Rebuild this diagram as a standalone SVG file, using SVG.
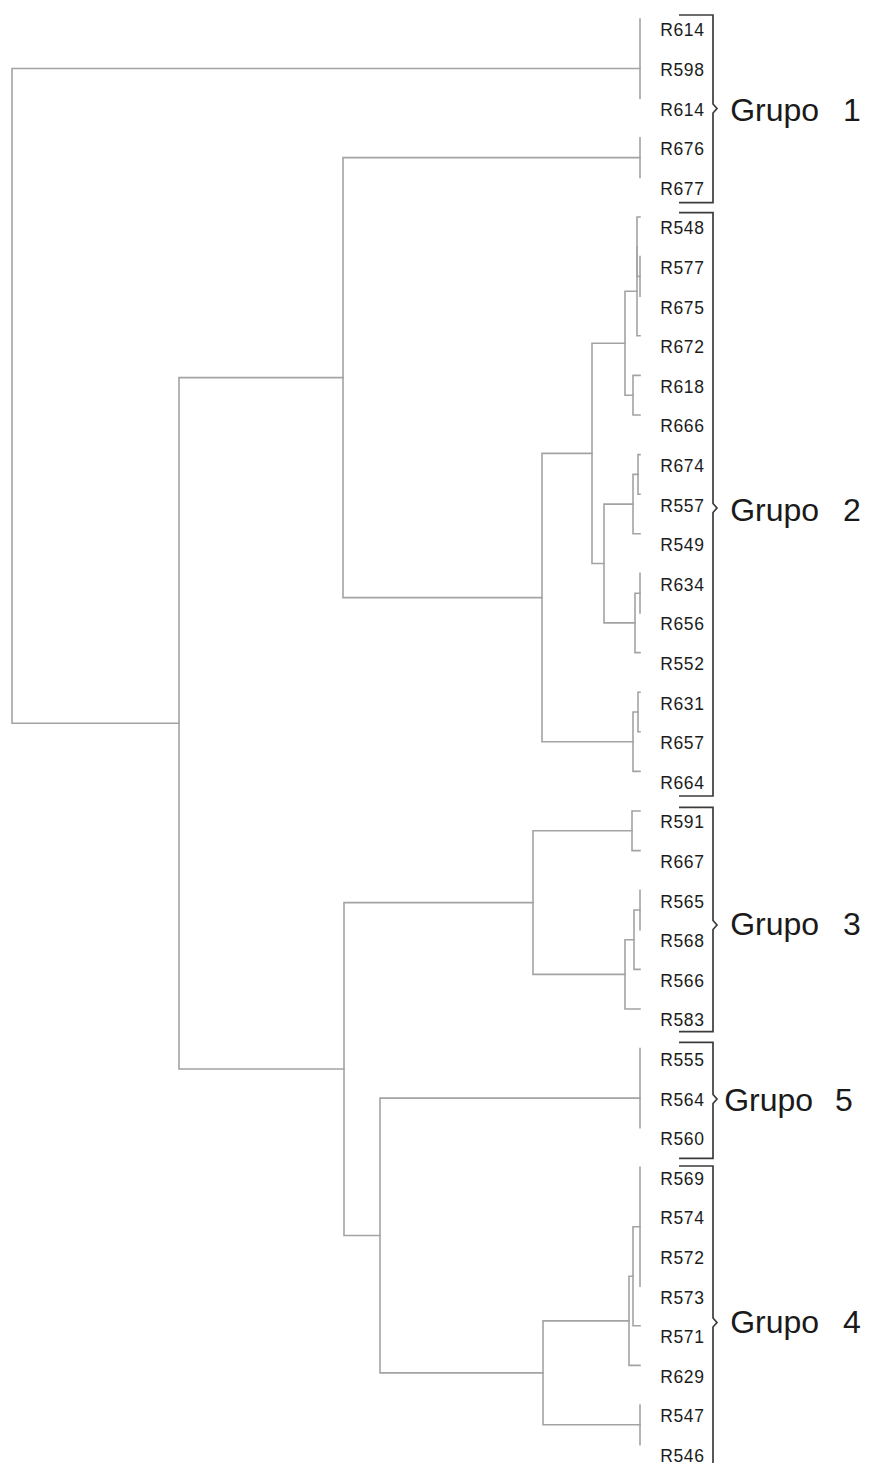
<svg xmlns="http://www.w3.org/2000/svg" width="871" height="1463" viewBox="0 0 871 1463">
  <style>
    .branch { fill: none; stroke: #a3a3a3; stroke-width: 1.6; stroke-linecap: square; }
    .brace { fill: none; stroke: #3c3c3c; stroke-width: 1.7; stroke-linejoin: miter; }
    .leaf { font-family: "Liberation Sans", Arial, sans-serif; font-size: 17.5px; letter-spacing: 0.6px; fill: #1c1c1c; }
    .group-name { font-family: "Liberation Sans", Arial, sans-serif; font-size: 32px; word-spacing: 15px; fill: #1a1a1a; }
  </style>
  <rect width="871" height="1463" fill="#ffffff"/>

  <!-- dendrogram branches (elbow connectors, tips at x=640) -->
  <g id="connectors" class="branch">
    <!-- Grupo 1 -->
    <path d="M640,19 V98.2"/>
    <path d="M640,137.8 V177.4"/>
    <!-- Grupo 2 -->
    <path d="M640,256.6 V296.2"/>
    <path d="M640,217 H637 V276.4 H640"/>
    <path d="M637,246.7 V335.8 H640"/>
    <path d="M640,375.4 H633 V415 H640"/>
    <path d="M637,291.2 H625 V395.2 H633"/>
    <path d="M640,454.6 H638 V494.2 H640"/>
    <path d="M638,474.4 H633 V533.8 H640"/>
    <path d="M640,573.4 V613"/>
    <path d="M640,593.2 H635 V652.6 H640"/>
    <path d="M633,504.1 H604 V622.9 H635"/>
    <path d="M625,343.2 H592 V563.5 H604"/>
    <path d="M640,692.2 H638 V731.8 H640"/>
    <path d="M638,712 H633 V771.4 H640"/>
    <path d="M592,453.4 H542 V741.7 H633"/>
    <path d="M640,157.6 H343 V597.6 H542"/>
    <!-- Grupo 3 -->
    <path d="M640,811 H632 V850.6 H640"/>
    <path d="M640,890.2 V929.8"/>
    <path d="M640,910 H634 V969.4 H640"/>
    <path d="M634,939.7 H625 V1009 H640"/>
    <path d="M632,830.8 H533 V974.4 H625"/>
    <!-- Grupo 5 -->
    <path d="M640,1048.6 V1127.8"/>
    <!-- Grupo 4 -->
    <path d="M640,1167.4 V1286.2"/>
    <path d="M640,1226.8 H633 V1325.8 H640"/>
    <path d="M633,1276.3 H629 V1365.4 H640"/>
    <path d="M640,1405 V1444.6"/>
    <path d="M629,1320.9 H543 V1424.8 H640"/>
    <!-- upper levels -->
    <path d="M640,1098.1 H380 V1372.9 H543"/>
    <path d="M533,902.6 H344 V1235.5 H380"/>
    <path d="M343,377.6 H179 V1069 H344"/>
    <path d="M640,68.5 H12 V723.3 H179"/>
  </g>

  <!-- leaf labels -->
  <g id="leaf-R614-a"><text class="leaf" x="660.3" y="36.3">R614</text></g>
  <g id="leaf-R598"><text class="leaf" x="660.3" y="75.9">R598</text></g>
  <g id="leaf-R614-b"><text class="leaf" x="660.3" y="115.5">R614</text></g>
  <g id="leaf-R676"><text class="leaf" x="660.3" y="155.1">R676</text></g>
  <g id="leaf-R677"><text class="leaf" x="660.3" y="194.7">R677</text></g>
  <g id="leaf-R548"><text class="leaf" x="660.3" y="234.3">R548</text></g>
  <g id="leaf-R577"><text class="leaf" x="660.3" y="273.9">R577</text></g>
  <g id="leaf-R675"><text class="leaf" x="660.3" y="313.5">R675</text></g>
  <g id="leaf-R672"><text class="leaf" x="660.3" y="353.1">R672</text></g>
  <g id="leaf-R618"><text class="leaf" x="660.3" y="392.7">R618</text></g>
  <g id="leaf-R666"><text class="leaf" x="660.3" y="432.3">R666</text></g>
  <g id="leaf-R674"><text class="leaf" x="660.3" y="471.9">R674</text></g>
  <g id="leaf-R557"><text class="leaf" x="660.3" y="511.5">R557</text></g>
  <g id="leaf-R549"><text class="leaf" x="660.3" y="551.1">R549</text></g>
  <g id="leaf-R634"><text class="leaf" x="660.3" y="590.7">R634</text></g>
  <g id="leaf-R656"><text class="leaf" x="660.3" y="630.3">R656</text></g>
  <g id="leaf-R552"><text class="leaf" x="660.3" y="669.9">R552</text></g>
  <g id="leaf-R631"><text class="leaf" x="660.3" y="709.5">R631</text></g>
  <g id="leaf-R657"><text class="leaf" x="660.3" y="749.1">R657</text></g>
  <g id="leaf-R664"><text class="leaf" x="660.3" y="788.7">R664</text></g>
  <g id="leaf-R591"><text class="leaf" x="660.3" y="828.3">R591</text></g>
  <g id="leaf-R667"><text class="leaf" x="660.3" y="867.9">R667</text></g>
  <g id="leaf-R565"><text class="leaf" x="660.3" y="907.5">R565</text></g>
  <g id="leaf-R568"><text class="leaf" x="660.3" y="947.1">R568</text></g>
  <g id="leaf-R566"><text class="leaf" x="660.3" y="986.7">R566</text></g>
  <g id="leaf-R583"><text class="leaf" x="660.3" y="1026.3">R583</text></g>
  <g id="leaf-R555"><text class="leaf" x="660.3" y="1065.9">R555</text></g>
  <g id="leaf-R564"><text class="leaf" x="660.3" y="1105.5">R564</text></g>
  <g id="leaf-R560"><text class="leaf" x="660.3" y="1145.1">R560</text></g>
  <g id="leaf-R569"><text class="leaf" x="660.3" y="1184.7">R569</text></g>
  <g id="leaf-R574"><text class="leaf" x="660.3" y="1224.3">R574</text></g>
  <g id="leaf-R572"><text class="leaf" x="660.3" y="1263.9">R572</text></g>
  <g id="leaf-R573"><text class="leaf" x="660.3" y="1303.5">R573</text></g>
  <g id="leaf-R571"><text class="leaf" x="660.3" y="1343.1">R571</text></g>
  <g id="leaf-R629"><text class="leaf" x="660.3" y="1382.7">R629</text></g>
  <g id="leaf-R547"><text class="leaf" x="660.3" y="1422.3">R547</text></g>
  <g id="leaf-R546"><text class="leaf" x="660.3" y="1461.9">R546</text></g>

  <!-- group braces and names -->
  <g id="grupo-1">
    <path class="brace" d="M679,15 H713 V104 L717,108.5 L713,113 V202.7 H679"/>
    <text class="group-name" x="730.2" y="121">Grupo 1</text>
  </g>
  <g id="grupo-2">
    <path class="brace" d="M679,212.7 H713 V503.5 L717,508 L713,512.5 V796 H679"/>
    <text class="group-name" x="730.2" y="521">Grupo 2</text>
  </g>
  <g id="grupo-3">
    <path class="brace" d="M679,807.3 H713 V920.5 L717,925 L713,929.5 V1031.7 H679"/>
    <text class="group-name" x="730.2" y="935">Grupo 3</text>
  </g>
  <g id="grupo-5">
    <path class="brace" d="M679,1042.3 H713 V1094.5 L717,1099 L713,1103.5 V1158.3 H679"/>
    <text class="group-name" x="724.2" y="1111" style="word-spacing:13px">Grupo 5</text>
  </g>
  <g id="grupo-4">
    <path class="brace" d="M679,1166 H713 V1318 L717,1322.5 L713,1327 V1463"/>
    <text class="group-name" x="730.2" y="1333">Grupo 4</text>
  </g>
</svg>
